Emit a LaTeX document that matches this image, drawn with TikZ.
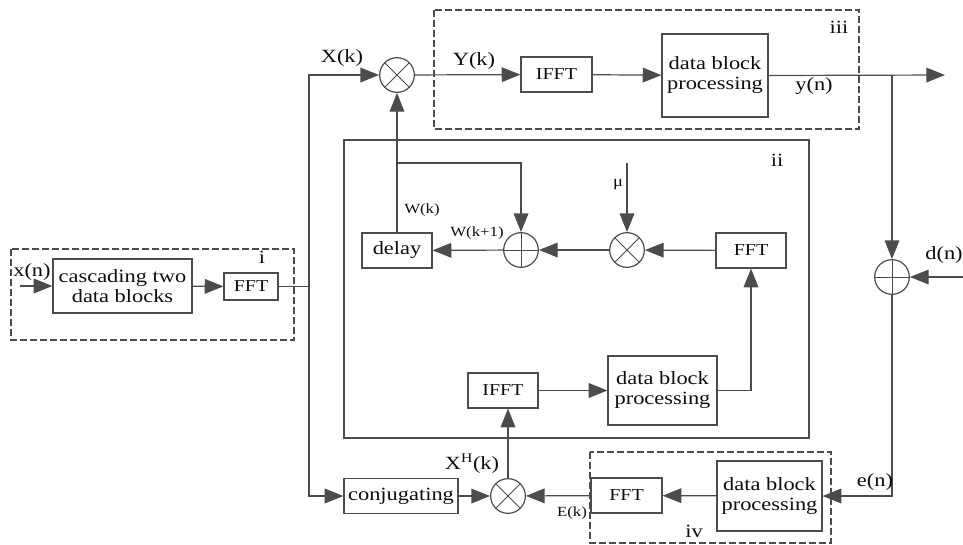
\documentclass[tikz,border=0pt]{standalone}
\usepackage{fontspec}
\setmainfont{Liberation Serif}[FakeStretch=1.2]
\usetikzlibrary{arrows.meta}
\definecolor{lc}{gray}{0.3}
\definecolor{tc}{gray}{0.05}
\tikzset{
  blk/.style={draw=lc, line width=0.9pt, inner sep=0pt, align=center, text=tc, font=\fontsize{14}{15}\selectfont},
  sz/.style 2 args={minimum width=#1*0.75pt, minimum height=#2*0.75pt},
  fftbox/.style={blk, font=\fontsize{12.5}{14}\selectfont},
  opc/.style={circle, draw=lc, line width=0.9pt, minimum size=26pt, inner sep=0pt},
  mult/.style={opc, path picture={\draw[lc, line width=0.7pt] (path picture bounding box.north west)--(path picture bounding box.south east) (path picture bounding box.north east)--(path picture bounding box.south west);}},
  plus/.style={opc, path picture={\draw[lc, line width=0.7pt] (path picture bounding box.north)--(path picture bounding box.south) (path picture bounding box.east)--(path picture bounding box.west);}},
  ln/.style={draw=lc, line width=0.9pt},
  arr/.style={ln, -{Triangle[length=14pt,width=11pt]}},
  dbox/.style={draw=lc, line width=0.9pt, dash pattern=on 5pt off 2.5pt},
  lbl/.style={inner sep=0pt, text=tc, font=\fontsize{14}{15}\selectfont},
  slbl/.style={inner sep=0pt, text=tc, font=\fontsize{10.5}{11}\selectfont},
}
\begin{document}
\begin{tikzpicture}[x=0.75pt, y=-0.75pt]
\useasboundingbox (0,0) rectangle (963,544);
% group frames
\draw[dbox] (11,249) rectangle (294,340);
\draw[dbox] (434,10) rectangle (859,129);
\draw[dbox] (590,452) rectangle (831,543);
\draw[ln] (344,140) rectangle (809,438);
% blocks
\node[blk, sz={139}{54}] (casc) at (122.5,286) {cascading two\\data blocks};
\node[fftbox, sz={54}{27}] (fft1) at (251,286.5) {FFT};
\node[fftbox, sz={71}{35}] (ifft3) at (556.5,74.5) {IFFT};
\node[blk, sz={106}{83}] (dbp3) at (715,75.5) {data block\\processing};
\node[blk, sz={70}{35}] (delay) at (397,250.5) {delay};
\node[fftbox, sz={70}{35}] (fft2) at (751,250.5) {FFT};
\node[fftbox, sz={70}{35}] (ifft2) at (503,390.5) {IFFT};
\node[blk, sz={109}{69}] (dbp2) at (662.5,390.5) {data block\\processing};
\node[blk, sz={114}{35}] (conj) at (401,496) {conjugating};
\node[fftbox, sz={71}{35}] (fft4) at (626.5,495.5) {FFT};
\node[blk, sz={105}{70}] (dbp4) at (769.5,496) {data block\\processing};
% operators
\node[mult] (mul1) at (397,75) {};
\node[plus] (plus2) at (521,250) {};
\node[mult] (mul2) at (627,250) {};
\node[plus] (plus3) at (892,277) {};
\node[mult] (mul3) at (508,496) {};
% coordinates
\coordinate (xin) at (20,286);
\coordinate (jn) at (309,286.5);
\coordinate (out) at (945,75);
\coordinate (br) at (892,75);
\coordinate (din) at (963,277);
\coordinate (mu) at (627,163);
\coordinate (wb) at (397,163);
% connectors
\draw[arr] (xin) -- (casc);
\draw[arr] (casc) -- (fft1);
\draw[ln] (fft1.east) -- (jn);
\draw[arr] (jn) |- (mul1);
\draw[arr] (jn) |- (conj);
\draw[arr] (mul1) -- (ifft3);
\draw[arr] (ifft3) -- (dbp3);
\draw[arr] (dbp3.east) -- (out);
\draw[arr] (br) -- (plus3);
\draw[arr] (din) -- (plus3);
\draw[arr] (plus3) |- (dbp4);
\draw[arr] (dbp4) -- (fft4);
\draw[arr] (fft4) -- (mul3);
\draw[arr] (conj) -- (mul3);
\draw[arr] (mul3) -- (mul3 |- ifft2.south);
\draw[arr] (ifft2) -- (dbp2);
\draw[arr] (dbp2.east) -| (fft2.south);
\draw[arr] (fft2) -- (mul2);
\draw[arr] (mu) -- (mul2);
\draw[arr] (mul2) -- (plus2);
\draw[arr] (plus2) -- (delay);
\draw[arr] (delay.north) -- (mul1);
\draw[arr] (wb) -| (plus2);
% labels
\node[lbl] (lx) at (32,272) {x(n)};
\node[lbl] (li) at (262,257) {i};
\node[lbl] (lX) at (342,58) {X(k)};
\node[lbl] (lY) at (474,61) {Y(k)};
\node[lbl] (liii) at (839,27) {iii};
\node[lbl] (ly) at (814,86) {y(n)};
\node[lbl] (lii) at (777,160) {ii};
\node[slbl, font=\fontsize{11.5}{12}\selectfont] (lmu) at (618,185) {μ};
\node[slbl] (lW) at (422,210) {W(k)};
\node[slbl] (lW1) at (477,233) {W(k+1)};
\node[lbl] (ld) at (944,255) {d(n)};
\node[lbl] (le) at (875,482) {e(n)};
\node[lbl] (liv) at (694,531) {iv};
\node[slbl] (lE) at (572,513) {E(k)};
\node[lbl] (lXH) at (472,464) {X\textsuperscript{H}(k)};
\end{tikzpicture}
\end{document}
